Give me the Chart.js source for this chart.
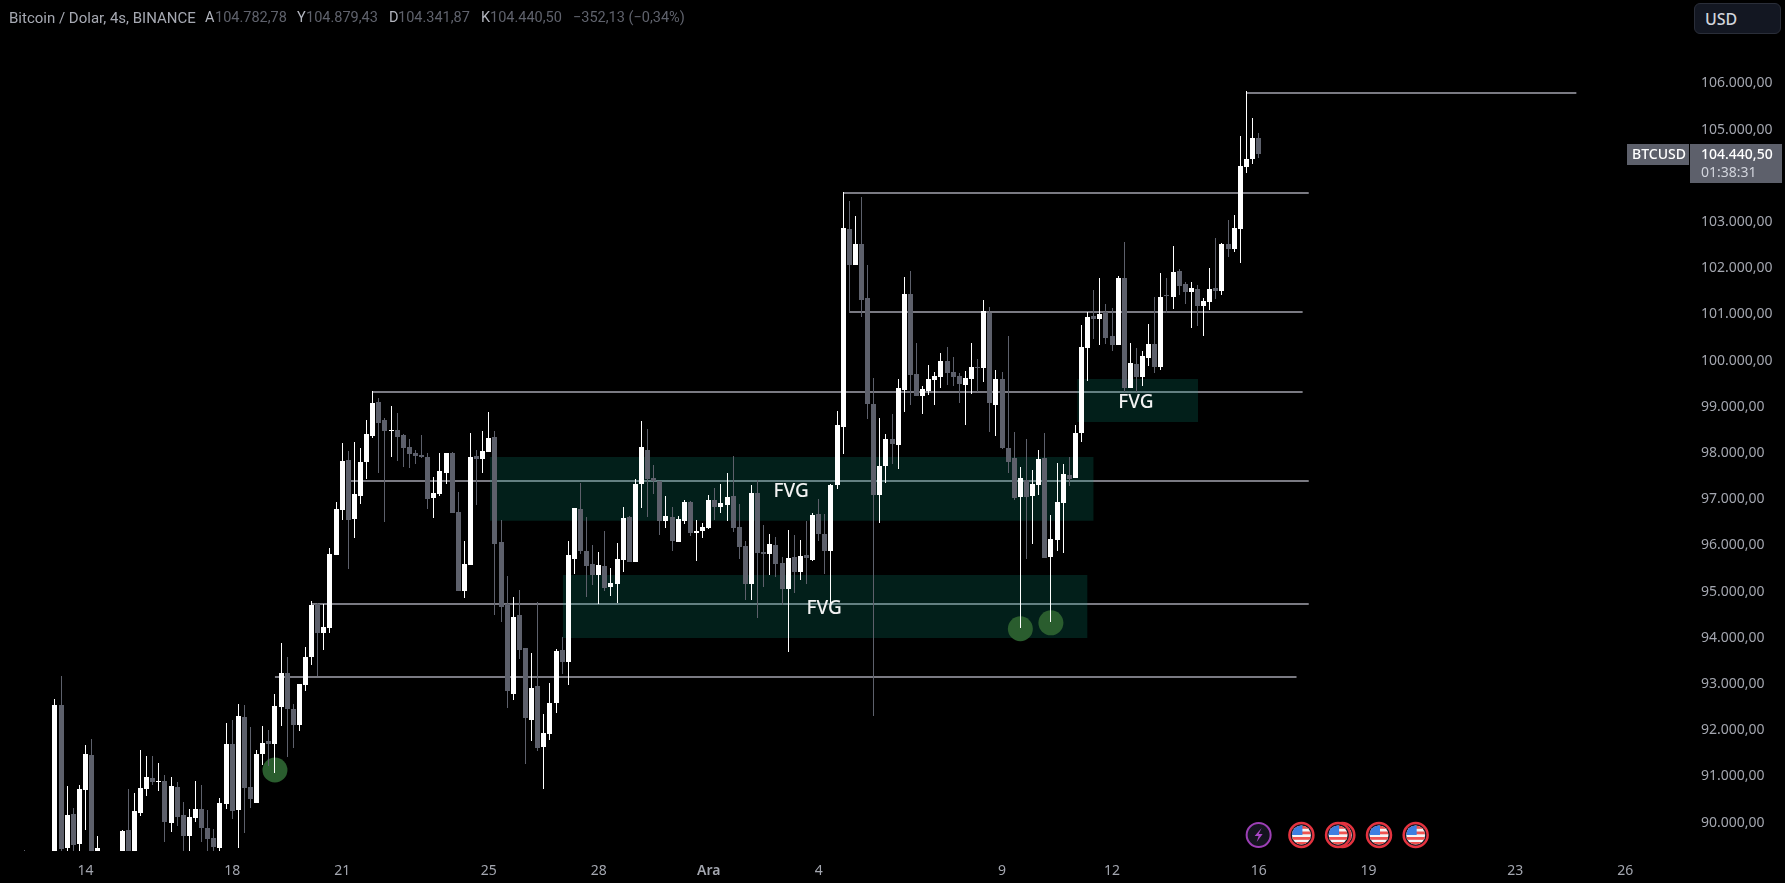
<!DOCTYPE html>
<html>
<head>
<meta charset="utf-8">
<title>Bitcoin / Dolar</title>
<script src="https://cdn.jsdelivr.net/npm/chart.js@4/dist/chart.umd.min.js"></script>
<style>
  html, body { margin: 0; padding: 0; background: #000; overflow: hidden; }
  #wrap { position: relative; width: 1785px; height: 883px; }
  canvas { position: absolute; left: 0; top: 0; }
  .hd { position: absolute; top: 9px; font: 14.5px/18px Roboto, sans-serif; white-space: nowrap; }
  .name { color: #a6a9b2; font-size: 15px; }
  .key { color: #b2b5be; }
  .val { color: #5f626c; }
  #usdCover { position: absolute; left: 1690px; top: 0; width: 95px; height: 43px; background: #000; }
  #usd { position: absolute; left: 1694px; top: 3px; width: 87px; height: 31px; box-sizing: border-box;
         background: #131722; border: 1px solid #2a2e39; border-radius: 6px;
         color: #d1d4dc; font: 500 16px/30px "Noto Sans", sans-serif; padding-left: 10px; }
</style>
</head>
<body>
<div id="wrap">
  <canvas id="btcChart" width="1785" height="883"></canvas>
  <span class="hd name" style="left:9px">Bitcoin / Dolar, 4s, BINANCE</span>
  <span class="hd key" style="left:205px">A</span><span class="hd val" style="left:215px">104.782,78</span>
  <span class="hd key" style="left:297px">Y</span><span class="hd val" style="left:306px">104.879,43</span>
  <span class="hd key" style="left:389px">D</span><span class="hd val" style="left:398px">104.341,87</span>
  <span class="hd key" style="left:481px">K</span><span class="hd val" style="left:490px">104.440,50</span>
  <span class="hd val" style="left:573px">−352,13 (−0,34%)</span>
  <div id="usdCover"></div>
  <div id="usd">USD</div>
</div>
<script>
// candle index of the first entry, the days before 14 Kas sit mostly under the bottom edge
const firstBar = -5;

const opens = [
  88900,88800,88700,88950,88800,88900,92505,89410,90146,89496,
  90665,91423,88900,89100,88900,89050,89200,89799,89200,90167,
  90687,90925,90838,90860,89951,90730,90124,89669,90059,90254,
  89843,89626,89410,90362,91661,90232,92245,90730,90384,91444,
  91726,91661,92461,93197,92418,92072,92938,93544,94691,94063,
  94171,95752,96725,97807,96530,97028,97764,98326,99062,98673,
  98435,98456,98348,98088,97958,97915,97872,96984,97071,97526,
  97958,96681,94971,95534,97894,97829,97980,98305,96032,94690,
  92742,94452,93738,92179,92915,91595,91876,92547,93694,93435,
  95664,96746,95837,95556,95318,95513,95058,95123,95642,96573,
  95599,97287,98023,97417,97352,96487,96573,96032,96487,96898,
  96227,96270,96335,96941,96790,96833,97028,96357,95945,95123,
  97093,95816,95772,95967,95577,95015,95700,95387,95748,95651,
  96637,96204,95844,97261,98518,102803,102026,102482,101313,99015,
  97045,97678,98270,98134,99319,101401,99664,99191,99311,99535,
  99600,99952,99712,99616,99431,99559,99816,99800,100985,98999,
  99559,98062,97846,97005,97365,97029,97261,97846,95708,96076,
  96877,97477,97413,98390,100232,100921,100857,101001,100488,100296,
  101746,99367,99880,99600,100016,100320,99816,101377,101337,101898,
  101617,101444,101509,101141,101227,101530,101465,102483,102375,102807,
  104149,104323,104782
];
const highs = [
  89358,89100,89200,89250,89200,92635,93132,90752,90275,90773,
  91639,91769,89669,89250,89200,89300,89799,90687,90600,91531,
  91401,91401,91249,90990,90946,90838,90405,90254,90860,90773,
  90232,89821,90492,92115,92180,92526,92505,92029,91531,92050,
  91964,92743,93847,93544,92526,92959,93760,94756,94705,94691,
  95903,96900,98168,98002,98197,98067,98673,99300,99149,98716,
  98976,98824,98370,98261,98023,98348,97958,97439,97958,97958,
  97980,97114,96054,98391,98023,98435,98846,98435,96508,95296,
  94842,94993,93738,93629,94733,92309,92980,93716,93976,96054,
  96768,97309,96573,95967,95816,96270,95469,96010,96790,96595,
  97396,98651,98478,97699,97352,97028,96790,96595,96941,96920,
  96508,96443,97049,97201,97287,97526,97894,96855,96054,97266,
  97374,96400,96205,96140,95707,96292,96180,96076,96492,96661,
  96973,96637,97285,98863,103604,103411,103091,103499,102018,99583,
  98719,98366,98799,99559,101778,101898,100336,99399,99856,99712,
  100120,100248,100032,99688,99744,100336,99984,101273,101121,99752,
  99712,100488,98414,97654,98262,97590,98022,98382,96613,97742,
  97718,97870,98566,100729,101001,101489,101746,101185,101097,101786,
  102522,100336,100224,100168,100745,101345,101850,101746,102442,101942,
  101660,101660,101595,101314,101963,102613,102504,103002,103110,104820,
  105794,105210,104879
];
const lows = [
  88600,88500,88500,88700,88500,88600,89100,89300,89300,89300,
  89799,88800,88800,88800,88700,88800,89000,88900,89000,90100,
  90535,90773,90643,89539,89756,89886,89200,89200,89972,89539,
  89200,89200,89250,90254,90037,89410,89734,90275,90384,91206,
  91184,91033,92050,91379,91574,91942,92808,93371,93132,93695,
  94063,95752,96508,95448,96119,96855,97396,98283,97526,96465,
  97872,97785,97655,97634,97720,97857,96746,96552,97028,97287,
  96660,94971,94820,95534,96833,97526,97980,94452,94301,92439,
  92612,93499,91227,91725,91508,90686,91746,92331,93175,92937,
  95339,95772,94842,95101,94690,94971,94863,94712,95383,95599,
  95599,96768,96573,97071,96184,96335,95837,96032,96422,96162,
  95621,96119,96313,96508,96660,96487,96248,95664,94777,94777,
  94387,95058,95318,95274,94668,93651,94931,95219,95123,95627,
  96060,95339,94715,97189,97934,100985,102026,100913,98703,92272,
  96445,97309,97718,97614,98847,98999,99191,98799,99215,98999,
  99359,99423,99407,99039,98566,99231,99279,99495,98414,98326,
  98046,97525,96949,94178,95660,95996,97045,95684,94298,95836,
  95796,97245,97413,98198,99519,100424,100296,100320,100176,100296,
  99279,99367,99279,99407,99840,99688,99752,100993,101073,101379,
  101184,100665,100708,100491,101054,101292,101379,102201,102310,102072,
  104020,104214,104341
];
const closes = [
  88800,88700,88950,88800,88900,92505,89388,90124,89474,90687,
  91444,89000,89410,88900,89050,89150,89777,89000,90210,90708,
  90946,90838,90860,89972,90752,90081,89669,90081,90254,89843,
  89604,89431,90384,91661,90210,92267,90708,90470,91444,91682,
  91661,92483,93197,92418,92072,92959,93544,94669,94063,94193,
  95773,96747,97785,96508,97071,97764,98370,99041,98608,98435,
  98456,98305,98067,97937,97894,97872,96963,97093,97569,97958,
  96660,94971,95556,97872,97829,98002,98283,95989,94625,92807,
  94409,93694,92223,92872,91573,91898,92547,93673,93435,95751,
  96768,95837,95513,95318,95534,95036,95145,95664,96552,95599,
  97287,98088,97396,97352,96487,96595,96054,96530,96898,96227,
  96270,96357,96941,96790,96876,97006,96335,95924,95123,97093,
  95794,95772,95989,95556,95015,95686,95387,95724,95676,96613,
  96204,95844,97261,98566,102827,102026,102482,101273,99015,97045,
  97678,98270,98150,99367,101401,99648,99191,99343,99559,99632,
  99952,99688,99600,99447,99583,99816,99800,101033,99039,99559,
  98062,97766,96981,97413,97005,97285,97830,95684,96092,96893,
  97501,97397,98390,100248,100905,100865,100969,100448,100296,101746,
  99367,99904,99600,100056,100320,99824,101337,101353,101874,101574,
  101444,101530,101141,101249,101509,101465,102483,102375,102829,104171,
  104323,104777,104440
];

// x axis: candle index of each day label
const dayBars = [5, 29, 47, 71, 89, 107, 125, 155, 173, 197, 215, 239, 257];
const dayLabels = ['14', '18', '21', '25', '28', 'Ara', '4', '9', '12', '16', '19', '23', '26'];
const priceTicks = [90000, 91000, 92000, 93000, 94000, 95000, 96000, 97000, 98000, 99000,
                    100000, 101000, 102000, 103000, 104000, 105000, 106000, 107000];
// the 104.000 label is covered by the last price box in the original too
const lastPrice = 104440.5;

// horizontal levels
const levelPrices = [105750, 103590, 101000, 99280, 97355, 94690, 93115];
const levelStart = [195, 129, 130, 52, 48, 42, 36];
const levelEnd = [249, 205.2, 204.2, 204.2, 205.2, 205.2, 203.2];

// FVG boxes
const zoneTops = [97872, 95318, 99561];
const zoneBottoms = [96490, 93954, 98630];
const zoneStart = [71.2, 83.1, 167.3];
const zoneEnd = [170, 169, 187.1];
const fvgBars = [120.5, 125.9, 176.9];
const fvgPrices = [97130, 94597, 99060];

// green marks on the long wicks
const markBars = [36, 158, 163];
const markPrices = [91098, 94154, 94282];

// calendar events along the bottom
const eventBars = [204, 210.7, 210, 216.7, 222.7];
const boltBar = 197;

const UP = '#ffffff';
const DOWN = '#5d606b';
const barIndex = opens.map((_, k) => firstBar + k);
const barColors = opens.map((o, k) => closes[k] >= o ? UP : DOWN);

const fmtPrice = v => v.toLocaleString('de-DE', { minimumFractionDigits: 2, maximumFractionDigits: 2 });

const datasets = [];
levelPrices.forEach((p, k) => {
    datasets.push({
        type: 'line', order: 6, borderColor: '#7a7a82', borderWidth: 2, pointRadius: 0,
        data: [{ x: levelStart[k], y: p }, { x: levelEnd[k], y: p }]
    });
});
zoneTops.forEach((top, k) => {
    datasets.push({
        type: 'line', order: 5, borderWidth: 0, pointRadius: 0,
        fill: { value: zoneBottoms[k] }, backgroundColor: 'rgba(8,153,129,0.2)',
        data: [{ x: zoneStart[k], y: top }, { x: zoneEnd[k], y: top }]
    });
});
datasets.push({
    type: 'line', order: 4, showLine: false, pointRadius: 12.5, pointBorderWidth: 0,
    pointBackgroundColor: '#2a5d2e',
    data: markBars.map((b, k) => ({ x: b, y: markPrices[k] }))
});
datasets.push({
    type: 'bar', order: 3, grouped: false, barThickness: 1, inflateAmount: 0,
    backgroundColor: barColors,
    data: barIndex.map((b, k) => ({ x: b, y: [lows[k], highs[k]] }))
});
datasets.push({
    type: 'bar', order: 2, grouped: false, barThickness: 5, inflateAmount: 0,
    backgroundColor: barColors,
    data: barIndex.map((b, k) => ({ x: b, y: [opens[k], closes[k]] }))
});

// keep candles and lines on whole pixels, as the original does
const snapPlugin = {
    id: 'snap',
    afterDatasetsUpdate(chart) {
        chart.getSortedVisibleDatasetMetas().forEach(meta => {
            meta.data.forEach(el => {
                if (meta.type === 'bar') {
                    el.x = Math.round(el.x - 0.5) + 0.5;
                    el.y = Math.round(el.y);
                    el.base = Math.round(el.base);
                    if (el.y === el.base) el.base += 1;
                    el.height = el.base - el.y;
                } else if (meta.dataset && meta.dataset.options.borderWidth) {
                    el.y = Math.round(el.y);
                }
            });
        });
    }
};

function drawFlag(ctx, x, y) {
    ctx.save();
    ctx.beginPath();
    ctx.arc(x, y, 12, 0, Math.PI * 2);
    ctx.fillStyle = '#131722';
    ctx.fill();
    ctx.lineWidth = 2.5;
    ctx.strokeStyle = '#e5333f';
    ctx.stroke();
    ctx.beginPath();
    ctx.arc(x, y, 9.5, 0, Math.PI * 2);
    ctx.clip();
    ctx.fillStyle = '#f5f5f5';
    ctx.fillRect(x - 10, y - 10, 20, 20);
    ctx.fillStyle = '#ef5350';
    [-9, -3.5, 2, 7].forEach(dy => ctx.fillRect(x - 10, y + dy, 20, 2.8));
    ctx.fillStyle = '#3d7fe0';
    ctx.fillRect(x - 10, y - 10, 11, 10);
    ctx.restore();
}

const overlayPlugin = {
    id: 'overlay',
    afterDraw(chart) {
        const { ctx, scales: { x, y } } = chart;
        ctx.save();

        // FVG labels
        ctx.font = '500 19px "Noto Sans"';
        ctx.fillStyle = '#f2f2f2';
        ctx.textAlign = 'center';
        ctx.textBaseline = 'middle';
        fvgBars.forEach((b, k) => ctx.fillText('FVG', x.getPixelForValue(b), y.getPixelForValue(fvgPrices[k])));

        // last price boxes
        const py = Math.round(y.getPixelForValue(lastPrice));
        ctx.fillStyle = DOWN;
        ctx.fillRect(1627, py - 10, 62, 21);
        ctx.fillRect(1690, py - 10, 92, 39);
        ctx.textAlign = 'left';
        ctx.fillStyle = '#ffffff';
        ctx.font = '500 14px "Noto Sans"';
        ctx.fillText('BTCUSD', 1632, py + 1);
        ctx.fillText(fmtPrice(lastPrice), 1701, py + 1);
        ctx.fillStyle = '#d1d4dc';
        ctx.font = '14px "Noto Sans"';
        ctx.fillText('01:38:31', 1701, py + 19);

        // event icons
        const iconY = 835;
        const bx = x.getPixelForValue(boltBar);
        ctx.beginPath();
        ctx.arc(bx, iconY, 12, 0, Math.PI * 2);
        ctx.fillStyle = '#14141f';
        ctx.fill();
        ctx.lineWidth = 2;
        ctx.strokeStyle = '#9c3fb5';
        ctx.stroke();
        ctx.fillStyle = '#ab47c8';
        ctx.beginPath();
        ctx.moveTo(bx + 3, iconY - 7);
        ctx.lineTo(bx - 4, iconY + 1);
        ctx.lineTo(bx, iconY + 1);
        ctx.lineTo(bx - 2, iconY + 7);
        ctx.lineTo(bx + 4, iconY - 1);
        ctx.lineTo(bx, iconY - 1);
        ctx.closePath();
        ctx.fill();
        eventBars.forEach(b => drawFlag(ctx, x.getPixelForValue(b), iconY));
        ctx.restore();
    }
};

function fixBox(width, height) {
    return scale => {
        if (width) scale.width = width;
        if (height) scale.height = height;
        scale.paddingTop = scale.paddingBottom = scale.paddingLeft = scale.paddingRight = 0;
    };
}

new Chart(document.getElementById('btcChart'), {
    type: 'bar',
    data: { datasets: datasets },
    plugins: [snapPlugin, overlayPlugin],
    options: {
        responsive: false,
        animation: false,
        events: [],
        layout: { padding: 0, autoPadding: false },
        plugins: { legend: { display: false }, tooltip: { enabled: false } },
        scales: {
            x: {
                type: 'linear',
                offset: false,
                min: -9,
                max: 267.6,
                grid: { display: false },
                border: { display: false },
                afterFit: fixBox(0, 32),
                afterBuildTicks: scale => { scale.ticks = dayBars.map(b => ({ value: b })); },
                ticks: {
                    autoSkip: false,
                    maxRotation: 0,
                    padding: 4,
                    color: '#a3a6af',
                    font: c => ({ family: 'Noto Sans', size: 14, weight: c.tick && c.tick.label === 'Ara' ? '600' : '400' }),
                    callback: v => dayLabels[dayBars.indexOf(v)]
                }
            },
            y: {
                position: 'right',
                min: 89344,
                max: 107764,
                grid: { display: false },
                border: { display: false },
                afterFit: fixBox(95, 0),
                afterBuildTicks: scale => { scale.ticks = priceTicks.map(v => ({ value: v })); },
                ticks: {
                    autoSkip: false,
                    padding: 3,
                    labelOffset: 2,
                    color: '#a3a6af',
                    font: { family: 'Noto Sans', size: 14 },
                    callback: v => fmtPrice(v)
                }
            }
        }
    }
});
</script>
</body>
</html>
